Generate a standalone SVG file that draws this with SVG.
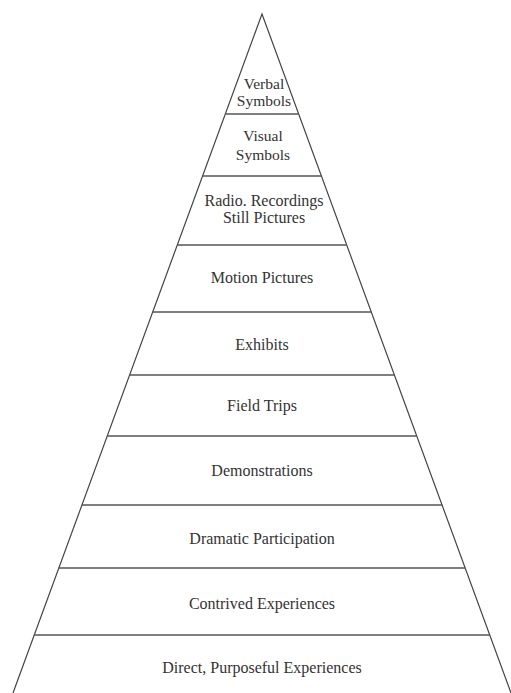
<svg xmlns="http://www.w3.org/2000/svg" width="511" height="693" viewBox="0 0 511 693">
<style>
.edge{fill:none;stroke:#444;stroke-width:1.2}
.div{stroke:#555;stroke-width:1.5}
.lbl{font-family:"Liberation Serif","Times New Roman",serif;font-size:16px;fill:#333;text-anchor:middle}
.sm{font-size:15.5px}
</style>
<rect width="511" height="693" fill="#fff"/>
<g id="connectors">
<path class="edge" d="M13,693 L262,14 L511,693"/>
</g>
<g id="verbal-symbols">
<line class="div" x1="225.3" y1="114" x2="298.7" y2="114"/>
<text class="lbl sm" x="264" y="89">Verbal</text>
<text class="lbl sm" x="264" y="106">Symbols</text>
</g>
<g id="visual-symbols">
<line class="div" x1="202.5" y1="176" x2="321.5" y2="176"/>
<text class="lbl sm" x="263" y="141">Visual</text>
<text class="lbl sm" x="263" y="160">Symbols</text>
</g>
<g id="radio-recordings">
<line class="div" x1="177.2" y1="245" x2="346.8" y2="245"/>
<text class="lbl" x="264" y="206">Radio. Recordings</text>
<text class="lbl" x="264" y="223">Still Pictures</text>
</g>
<g id="motion-pictures">
<line class="div" x1="152.6" y1="312" x2="371.4" y2="312"/>
<text class="lbl" x="262" y="283">Motion Pictures</text>
</g>
<g id="exhibits">
<line class="div" x1="129.5" y1="375" x2="394.5" y2="375"/>
<text class="lbl" x="262" y="350">Exhibits</text>
</g>
<g id="field-trips">
<line class="div" x1="107.1" y1="436" x2="416.9" y2="436"/>
<text class="lbl" x="262" y="411">Field Trips</text>
</g>
<g id="demonstrations">
<line class="div" x1="81.8" y1="505" x2="442.2" y2="505"/>
<text class="lbl" x="262" y="476">Demonstrations</text>
</g>
<g id="dramatic-participation">
<line class="div" x1="58.7" y1="568" x2="465.3" y2="568"/>
<text class="lbl" x="262" y="544">Dramatic Participation</text>
</g>
<g id="contrived-experiences">
<line class="div" x1="34.1" y1="635" x2="489.9" y2="635"/>
<text class="lbl" x="262" y="609">Contrived Experiences</text>
</g>
<g id="direct-purposeful-experiences">
<text class="lbl" x="262" y="673">Direct, Purposeful Experiences</text>
</g>
</svg>
